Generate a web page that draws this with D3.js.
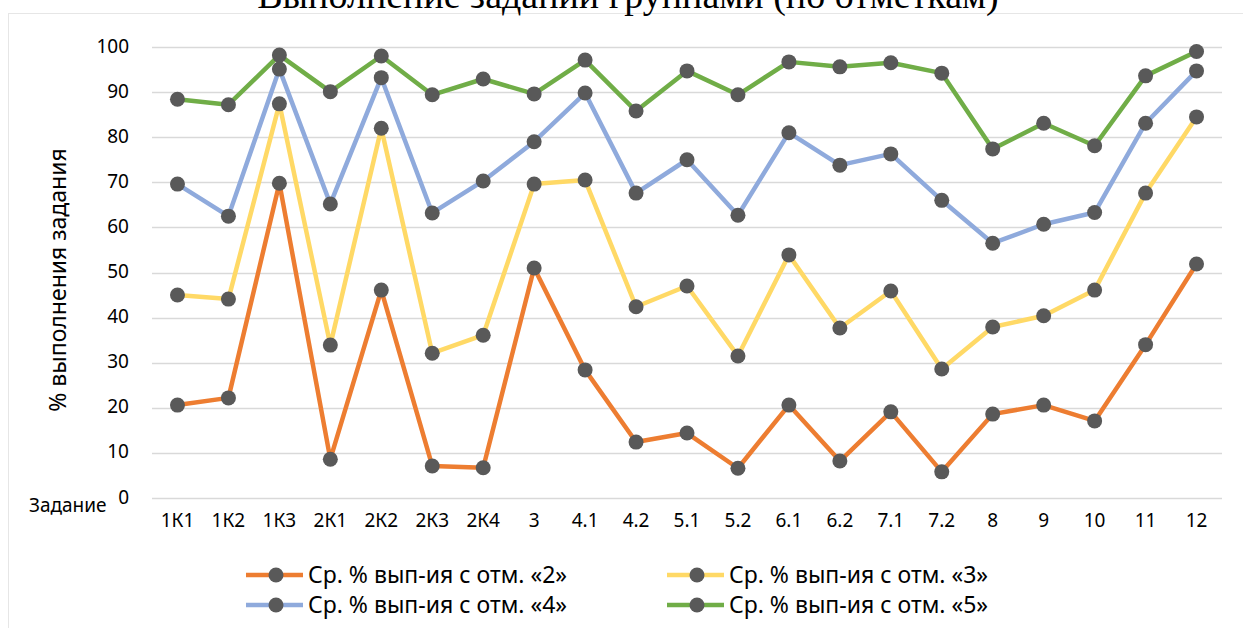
<!DOCTYPE html>
<html><head><meta charset="utf-8">
<script src="https://cdn.jsdelivr.net/npm/d3@7"></script>
<style>html,body{margin:0;padding:0;background:#fff;overflow:hidden}</style>
</head><body>
<svg id="chart" width="1243" height="628"></svg>
<script>
const categories = ["1К1","1К2","1К3","2К1","2К2","2К3","2К4","3","4.1","4.2","5.1","5.2","6.1","6.2","7.1","7.2","8","9","10","11","12"];
const seriesNames = ["Ср. % вып-ия с отм. «2»","Ср. % вып-ия с отм. «3»","Ср. % вып-ия с отм. «4»","Ср. % вып-ия с отм. «5»"];
const grade2 = [20.6,22.2,69.8,8.6,46.1,7.1,6.7,51.0,28.4,12.4,14.4,6.6,20.6,8.2,19.1,5.8,18.6,20.6,17.1,34.0,51.9];
const grade3 = [45.0,44.1,87.4,33.9,82.0,32.1,36.1,69.6,70.5,42.4,47.0,31.5,53.9,37.7,45.9,28.6,37.9,40.4,46.1,67.6,84.5];
const grade4 = [69.6,62.5,95.1,65.2,93.2,63.2,70.3,79.0,89.8,67.6,75.0,62.7,81.0,73.8,76.3,66.0,56.5,60.7,63.3,83.1,94.7];
const grade5 = [88.4,87.2,98.2,90.1,98.0,89.4,92.9,89.6,97.1,85.8,94.7,89.4,96.7,95.6,96.5,94.2,77.4,83.1,78.1,93.6,99.0];
const yTicks = [0,10,20,30,40,50,60,70,80,90,100];
const titleText = "Выполнение заданий группами (по отметкам)";
const yTitle = "% выполнения задания";
const xTitle = "Задание";

const colors = ["#ED7D31","#FFD966","#8FAADC","#70AD47"];
const allSeries = [grade2, grade3, grade4, grade5];
const font = "'Noto Sans', sans-serif";

const svg = d3.select("#chart");
// chart border
svg.append("rect").attr("x",8.5).attr("y",13.5).attr("width",1260).attr("height",640)
  .attr("fill","none").attr("stroke","#e6e6e6").attr("stroke-width",1);

const x = d3.scaleBand().domain(categories).range([152,1222]);
const y = d3.scaleLinear().domain([0,100]).range([498,47]);

// title
svg.append("text").attr("x",628).attr("y",8).attr("text-anchor","middle")
  .attr("font-family","'Liberation Serif','Times New Roman',serif").attr("font-size",38)
  .attr("fill","#000").text(titleText);

// gridlines
svg.append("g").selectAll("line").data(yTicks).join("line")
  .attr("x1",152).attr("x2",1222).attr("y1",d=>Math.round(y(d))+0.5).attr("y2",d=>Math.round(y(d))+0.5)
  .attr("stroke","#d9d9d9").attr("stroke-width",1.3);

// y axis
const yAxis = d3.axisLeft(y).tickValues(yTicks).tickSize(0).tickPadding(0);
const gy = svg.append("g").attr("transform","translate(129,-1)").call(yAxis);
gy.select(".domain").remove();
gy.selectAll("text").attr("font-family",font).attr("font-size",19).attr("fill","#000");

// x axis
const xAxis = d3.axisBottom(x).tickSize(0).tickPadding(0);
const gx = svg.append("g").attr("transform","translate(0,0)").call(xAxis);
gx.select(".domain").remove();
gx.selectAll("text").attr("y",527).attr("dy",0).attr("font-family",font).attr("font-size",19).attr("fill","#000");

// axis titles
svg.append("text").attr("transform","translate(58,280) rotate(-90)").attr("text-anchor","middle")
  .attr("dy","0.35em").attr("font-family",font).attr("font-size",23).attr("fill","#000").text(yTitle);
svg.append("text").attr("x",29).attr("y",512).attr("font-family",font).attr("font-size",19)
  .attr("fill","#000").text(xTitle);

// lines and markers
const line = d3.line().x((d,i)=>x(categories[i])+x.bandwidth()/2).y(d=>y(d));
allSeries.forEach((s,k)=>{
  svg.append("path").datum(s).attr("d",line).attr("fill","none")
    .attr("stroke",colors[k]).attr("stroke-width",4.5).attr("stroke-linejoin","round");
});
allSeries.forEach((s,k)=>{
  svg.append("g").selectAll("circle").data(s).join("circle")
    .attr("cx",(d,i)=>x(categories[i])+x.bandwidth()/2).attr("cy",d=>y(d)).attr("r",7.5)
    .attr("fill","#595959");
});

// legend
const legPos = [[246,575],[667,575],[246,605],[667,605]];
seriesNames.forEach((n,k)=>{
  const [lx,ly] = legPos[k];
  const g = svg.append("g");
  g.append("line").attr("x1",lx).attr("x2",lx+57).attr("y1",ly).attr("y2",ly)
    .attr("stroke",colors[k]).attr("stroke-width",4.5);
  g.append("circle").attr("cx",lx+30).attr("cy",ly).attr("r",7.5).attr("fill","#595959");
  g.append("text").attr("x",lx+62).attr("y",ly).attr("dy","0.36em")
    .attr("font-family",font).attr("font-size",23).attr("fill","#000").text(n);
});
</script>
</body></html>
